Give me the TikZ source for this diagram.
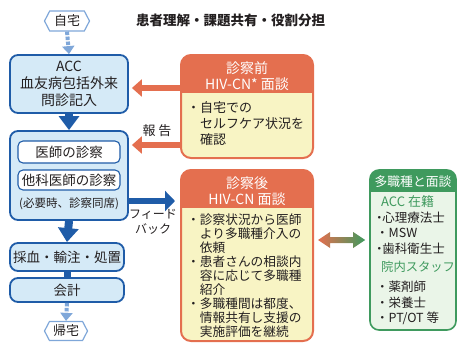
\documentclass[tikz,border=0pt]{standalone}
\usepackage{fontspec}
\setmainfont{Noto Sans CJK JP}
\usetikzlibrary{shapes.symbols,arrows.meta,calc}
\definecolor{bluedark}{HTML}{1F5CA8}
\definecolor{bluefill}{HTML}{D5EAF7}
\definecolor{bluelight}{HTML}{7FA7D9}
\definecolor{orangeC}{HTML}{E46F4F}
\definecolor{yellowC}{HTML}{F8F4C4}
\definecolor{greenC}{HTML}{3F9A5E}
\definecolor{greenfill}{HTML}{EAF5E8}
\definecolor{textC}{HTML}{231F20}
\newcommand\fs[2]{\fontsize{#1}{#2}\selectfont}
\begin{document}
\begin{tikzpicture}[x=1pt,y=-1pt,
  every node/.style={text=textC, inner sep=0pt},
  hexbox/.style={signal, signal to=west and east, signal pointer angle=125,
    draw=bluelight, line width=1.2, fill=white, minimum width=45, minimum height=20,
    font=\fs{13}{14}},
  accbox/.style={draw=bluedark, line width=1.8, fill=bluefill, rounded corners=8,
    align=center, font=\fs{14}{17}},
  wbox/.style={draw=bluedark, line width=1.1, fill=white, rounded corners=5,
    font=\fs{13.5}{14}},
  dotarrow/.style={bluelight, line width=4, dash pattern=on 3.5 off 1.5,
    -{Triangle[width=12,length=8]}},
  barrow/.style={bluedark, line width=8, -{Triangle[width=20,length=14]}},
  barrowh/.style={bluedark, line width=6, -{Triangle[width=20,length=10]}},
  oarrow/.style={orangeC, line width=6, -{Triangle[width=17,length=10]}},
  obox/.style={draw=orangeC, line width=2, fill=yellowC, rounded corners=10},
  gbox/.style={draw=greenC, line width=1.6, fill=greenfill, rounded corners=9},
  hdr/.style={text=white, align=center, font=\fs{14}{16}},
  gitem/.style={anchor=west, font=\fs{12.5}{14}},
  ghead/.style={anchor=west, text=greenC, font=\fs{13}{14}},
]
\useasboundingbox (0,0) rectangle (457,345);

% title
\node[anchor=west, font=\fs{13.5}{14}\bfseries] (title) at (136,20) {患者理解・課題共有・役割分担};

% left column
\node[hexbox] (home) at (67,21) {自宅};
\node[accbox, minimum width=118, minimum height=58] (acc) at (69,84) {ACC\\血友病包括外来\\問診記入};
\node[accbox, minimum width=118, minimum height=89] (exam) at (69,175.5) {};
\node[wbox, minimum width=102, minimum height=22] (doc) at (69,152) {医師の診察};
\node[wbox, minimum width=102, minimum height=20] (other) at (69,180) {他科医師の診察};
\node[font=\fs{11.5}{13}] (need) at (69,204) {(必要時、診察同席)};
\node[accbox, minimum width=114, minimum height=28, font=\fs{13.5}{14}] (proc) at (67,257) {採血・輸注・処置};
\node[accbox, minimum width=114, minimum height=24, font=\fs{13.5}{14}] (pay) at (67,290) {会計};
\node[hexbox, minimum width=43, minimum height=19] (back) at (66,331) {帰宅};

\draw[dotarrow] (home.south) -- (acc.north);
\draw[barrow] (acc.south) -- (exam.north);
\draw[barrow] (exam.south) -- (proc.north);
\draw[bluedark, line width=7] (proc.south) -- (pay.north);
\draw[dotarrow] (pay.south) -- (back.north);

% pre box
\node[obox, minimum width=132, minimum height=103] (pre) at (247,106.5) {};
\begin{scope}
  \clip[rounded corners=10] (181,55) rectangle (313,158);
  \fill[orangeC] (181,55) rectangle (313,93);
\end{scope}
\node[hdr] (prehdr) at (247,76) {診察前\\HIV-CN* 面談};
\node[anchor=north west, align=left, font=\fs{13}{16}] (pretxt) at (187,101)
  {・自宅での\\\hspace*{1em}セルフケア状況を\\\hspace*{1em}確認};

% post box
\node[obox, minimum width=132, minimum height=171] (post) at (247,255.5) {};
\begin{scope}
  \clip[rounded corners=10] (181,170) rectangle (313,341);
  \fill[orangeC] (181,170) rectangle (313,208);
\end{scope}
\node[hdr] (posthdr) at (247,191) {診察後\\HIV-CN 面談};
\node[anchor=north west, align=left, font=\fs{12.7}{13.9}] (posttxt) at (187,214)
  {・診察状況から医師\\\hspace*{1em}より多職種介入の\\\hspace*{1em}依頼\\
   ・患者さんの相談内\\\hspace*{1em}容に応じて多職種\\\hspace*{1em}紹介\\
   ・多職種間は都度、\\\hspace*{1em}情報共有し支援の\\\hspace*{1em}実施評価を継続};

% green box
\node[gbox, minimum width=86, minimum height=160] (multi) at (413,250) {};
\begin{scope}
  \clip[rounded corners=9] (370,170) rectangle (456,330);
  \fill[greenC] (370,170) rectangle (456,192);
\end{scope}
\node[text=white, font=\fs{12.8}{14}] (multihdr) at (413,181.5) {多職種と面談};
\node[ghead] (g1) at (381,202) {ACC 在籍};
\node[gitem] (g2) at (376,218) {\makebox[0.5em][c]{・}心理療法士};
\node[gitem] (g3) at (376,233) {・MSW};
\node[gitem] (g4) at (376,249) {\makebox[0.5em][c]{・}歯科衛生士};
\node[ghead, font=\fs{12.3}{14}] (g5) at (381,267) {院内スタッフ};
\node[gitem] (g6) at (376,287) {・薬剤師};
\node[gitem] (g7) at (376,303) {・栄養士};
\node[gitem] (g8) at (376,318) {・PT/OT 等};

% connectors
\coordinate (r1) at (0,88);
\coordinate (r2) at (0,145);
\coordinate (r3) at (0,201);
\coordinate (r4) at (0,240);
\draw[oarrow] (pre.west |- r1) -- ([xshift=3pt]acc.east |- r1);
\draw[oarrow] (pre.west |- r2) -- ([xshift=3pt]exam.east |- r2);
\node[font=\fs{13}{14}] (report) at (157,131) {報 告};
\draw[barrowh] (exam.east |- r3) -- ([xshift=-5pt]post.west |- r3);
\node[align=center, font=\fs{12}{15}] (fb) at (153,222) {フィード\\バック};

% double arrow (gradient)
\coordinate (da) at ([xshift=4pt]post.east |- r4);
\coordinate (db) at ([xshift=-4pt]multi.west |- r4);
\shade[left color=orangeC, middle color=black!22, right color=greenC]
  (da) -- ++(12,-8) -- ++(0,5) -- ($(db)+(-12,-3)$) -- ++(0,-5) -- (db)
  -- ++(-12,8) -- ++(0,-5) -- ($(da)+(12,3)$) -- ++(0,5) -- cycle;
\end{tikzpicture}
\end{document}
